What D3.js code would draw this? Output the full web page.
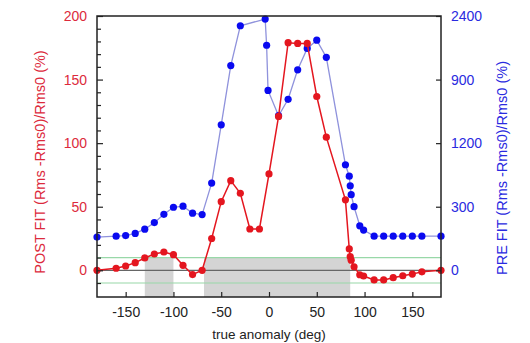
<!DOCTYPE html>
<html>
<head>
<meta charset="utf-8">
<script src="https://cdn.jsdelivr.net/npm/d3@7"></script>
<style>
  body { margin: 0; background: #fff; }
  text { font-family: "Liberation Sans", Arial, sans-serif; }
</style>
</head>
<body>
<div id="chart"></div>
<script>
const width = 530;
const height = 343;

// post fit series (left axis, %)
const postAngle = [-180, -160, -150, -140, -130, -120, -110, -100, -90, -80,
    -70, -60, -50, -40, -30, -20, -10, 0, 10, 20,
    30, 40, 50, 60, 80, 84, 85, 86, 89, 95,
    99, 110, 120, 130, 140, 150, 160, 180];
const postFit = [0, 1.6, 3.4, 6, 9.7, 12.8, 14.4, 12.3, 3.9, -3.4,
    0, 25, 54, 70.5, 60.6, 32.5, 32.5, 75.8, 121, 179,
    178.4, 178.4, 136.7, 104.7, 55.4, 16.8, 10.7, 8, 2.8, -3.5,
    -4.5, -7.6, -7.6, -5.8, -4.3, -3, -1.2, 0];

// pre fit series (right axis, %)
const preAngle = [-180, -160, -150, -140, -130, -120, -110, -100, -90, -80,
    -70, -60, -50, -40, -30, -4, -2.5, -1, 10, 20,
    30, 40, 50, 60, 80, 84, 85, 86, 89, 95,
    99, 110, 120, 130, 140, 150, 160, 180];
const preFit = [314, 322, 328, 348, 388, 450, 528, 595, 605, 539,
    526, 823, 1373, 1932, 2308, 2371, 2124, 1698, 1459, 1614,
    1892, 2094, 2172, 2010, 996, 888, 798, 714, 600, 420,
    380, 322, 322, 322, 322, 322, 322, 322];

// shaded intervals (deg)
const bands = [[-130, -100], [-68, 85]];
const limitLines = [-10, 10];

const xTicks = [-150, -100, -50, 0, 50, 100, 150];
const leftTicks = [0, 50, 100, 150, 200];
const rightTicks = [0, 600, 1200, 1800, 2400];
const rightTickLabels = ['0', '300', '1200', '900', '2400'];

const red = '#e4161f';
const blue = '#0a0af0';

const pLeft = 97, pRight = 441, pTop = 16, pBottom = 297;

const x = d3.scaleLinear().domain([-180, 180]).range([pLeft, pRight]);
const y = d3.scaleLinear().domain([-21, 200]).range([pBottom, pTop]);
const yR = d3.scaleLinear().domain([-21 * 12, 2400]).range([pBottom, pTop]);

const svg = d3.select('#chart').append('svg')
    .attr('width', width)
    .attr('height', height);

// shaded bands
svg.selectAll('rect.band').data(bands).join('rect')
    .attr('class', 'band')
    .attr('x', d => x(d[0]))
    .attr('y', y(10))
    .attr('width', d => x(d[1]) - x(d[0]))
    .attr('height', pBottom - y(10))
    .style('fill', '#d4d4d4');

// +-10 lines
svg.selectAll('line.limit').data(limitLines).join('line')
    .attr('class', 'limit')
    .attr('x1', pLeft).attr('x2', pRight)
    .attr('y1', d => y(d)).attr('y2', d => y(d))
    .style('stroke', '#98d8a8')
    .style('stroke-width', 1.2);

// zero line
svg.append('line')
    .attr('x1', pLeft).attr('x2', pRight)
    .attr('y1', y(0)).attr('y2', y(0))
    .style('stroke', '#666')
    .style('stroke-width', 1.2);

// pre fit
svg.append('path')
    .datum(preAngle.map((a, i) => [a, preFit[i]]))
    .attr('d', d3.line().x(d => x(d[0])).y(d => yR(d[1])))
    .style('fill', 'none')
    .style('stroke', '#8f92dc')
    .style('stroke-width', 1.3);

svg.selectAll('circle.pre').data(preAngle.map((a, i) => [a, preFit[i]])).join('circle')
    .attr('class', 'pre')
    .attr('cx', d => x(d[0]))
    .attr('cy', d => yR(d[1]))
    .attr('r', 3.6)
    .style('fill', blue);

// post fit
svg.append('path')
    .datum(postAngle.map((a, i) => [a, postFit[i]]))
    .attr('d', d3.line().x(d => x(d[0])).y(d => y(d[1])))
    .style('fill', 'none')
    .style('stroke', red)
    .style('stroke-width', 1.5);

svg.selectAll('circle.post').data(postAngle.map((a, i) => [a, postFit[i]])).join('circle')
    .attr('class', 'post')
    .attr('cx', d => x(d[0]))
    .attr('cy', d => y(d[1]))
    .attr('r', 3.6)
    .style('fill', red);

// axes
const gx = svg.append('g')
    .attr('transform', `translate(0,${pBottom})`)
    .call(d3.axisBottom(x).tickValues(xTicks).tickSizeInner(-5).tickSizeOuter(0).tickPadding(10)
        .tickFormat(d => String(d)));

const gyMinor = svg.append('g')
    .attr('transform', `translate(${pLeft},0)`)
    .call(d3.axisLeft(y).tickValues(d3.range(-10, 201, 10).filter(v => v % 50 !== 0))
        .tickSizeInner(-4).tickSizeOuter(0).tickFormat(''));

const gy = svg.append('g')
    .attr('transform', `translate(${pLeft},0)`)
    .call(d3.axisLeft(y).tickValues(leftTicks).tickSizeInner(-6).tickSizeOuter(0).tickPadding(10));

const gyR = svg.append('g')
    .attr('transform', `translate(${pRight},0)`)
    .call(d3.axisRight(yR).tickValues(rightTicks).tickSizeInner(-5).tickSizeOuter(0).tickPadding(10)
        .tickFormat((d, i) => rightTickLabels[i]));

[gx, gy, gyMinor, gyR].forEach(g => {
    g.select('.domain').remove();
    g.selectAll('line').style('stroke', '#222').style('stroke-width', 1.2);
    g.selectAll('text').style('font-size', '14px').style('font-family', '"Liberation Sans", Arial, sans-serif');
});
gx.selectAll('text').style('fill', '#222');
gy.selectAll('text').style('fill', '#dc2a3c');
gyR.selectAll('text').style('fill', '#2a2ae0');

// frame
svg.append('rect')
    .attr('x', pLeft).attr('y', pTop)
    .attr('width', pRight - pLeft).attr('height', pBottom - pTop)
    .style('fill', 'none')
    .style('stroke', '#222')
    .style('stroke-width', 1.5);

// titles
svg.append('text')
    .attr('x', 269)
    .attr('y', 339)
    .attr('text-anchor', 'middle')
    .style('font-size', '13.5px')
    .style('fill', '#222')
    .text('true anomaly (deg)');

svg.append('text')
    .attr('transform', `translate(45,162) rotate(-90)`)
    .attr('text-anchor', 'middle')
    .style('font-size', '14.5px')
    .style('fill', '#dc2a3c')
    .text('POST FIT (Rms -Rms0)/Rms0 (%)');

svg.append('text')
    .attr('transform', `translate(507,168) rotate(-90)`)
    .attr('text-anchor', 'middle')
    .style('font-size', '14.5px')
    .style('fill', '#2a2ae0')
    .text('PRE FIT (Rms -Rms0)/Rms0 (%)');
</script>
</body>
</html>
